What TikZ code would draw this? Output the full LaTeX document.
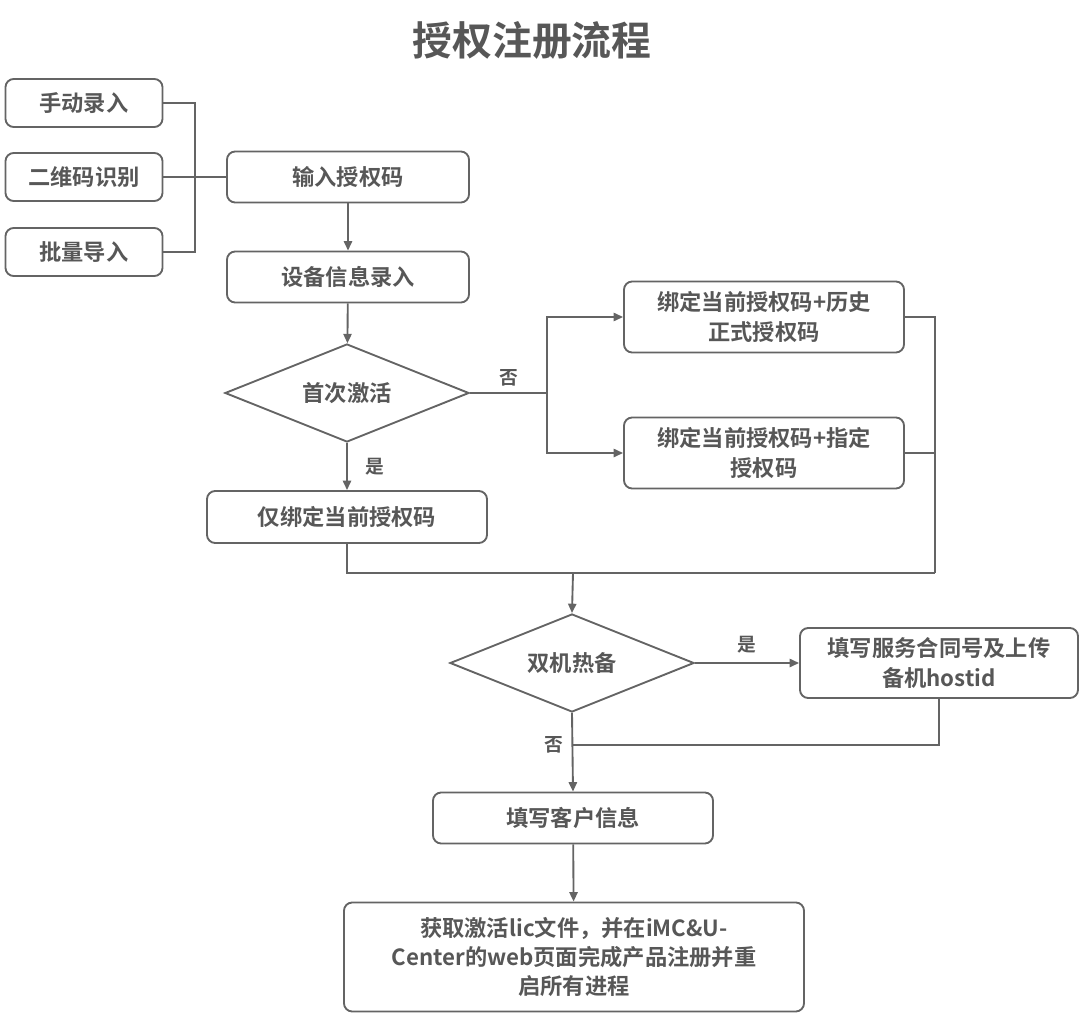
\documentclass[tikz,border=0pt]{standalone}
\usepackage{fontspec}
\setmainfont{Noto Sans CJK SC Bold}
\usepackage{xcolor}
\usepackage{tikz}
\usetikzlibrary{positioning,arrows.meta,shapes.geometric}
\definecolor{lineGray}{HTML}{646464}
\definecolor{textGray}{HTML}{575757}

\begin{document}
\begin{tikzpicture}[
    x=0.03cm, y=-0.03cm,
    line width=1.6pt, draw=lineGray, text=textGray,
    box/.style={draw=lineGray, rounded corners=7pt, align=center, inner sep=0pt, font=\fontsize{19}{25}\selectfont},
    decision/.style={draw=lineGray, diamond, aspect=2.5, inner sep=0pt, font=\fontsize{19}{25}\selectfont},
    arr/.style={draw=lineGray, -{Triangle[length=8pt,width=7pt]}},
    lnk/.style={draw=lineGray},
    lbl/.style={font=\fontsize{16}{20}\selectfont}
  ]
  \useasboundingbox (0,0) rectangle (1080,1014);

  \node[font=\fontsize{34}{40}\selectfont] (title) at (532,40) {授权注册流程};

  % input methods
  \node[box, minimum width=4.71cm, minimum height=1.44cm] (manual) at (84,103) {手动录入};
  \node[box, minimum width=4.71cm, minimum height=1.44cm] (qrcode) at (84,177) {二维码识别};
  \node[box, minimum width=4.71cm, minimum height=1.44cm] (batch) at (84,252) {批量导入};
  \coordinate (injoin) at (195,177);

  \node[box, minimum width=7.26cm, minimum height=1.53cm] (inputcode) at (348,177) {输入授权码};
  \node[box, minimum width=7.26cm, minimum height=1.53cm] (devinfo) at (348,277) {设备信息录入};
  \node[decision, minimum width=7.32cm, minimum height=2.94cm] (firstact) at (347,393) {首次激活};

  \node[box, minimum width=8.4cm, minimum height=2.13cm] (bindhist) at (764,317) {绑定当前授权码+历史\\正式授权码};
  \node[box, minimum width=8.4cm, minimum height=2.13cm] (bindspec) at (764,453) {绑定当前授权码+指定\\授权码};
  \node[box, minimum width=8.4cm, minimum height=1.56cm] (bindonly) at (347,517) {仅绑定当前授权码};
  \coordinate (split) at (547,393);
  \coordinate (rjoin) at (935,573);
  \coordinate (merge) at (573,573);

  \node[decision, minimum width=7.32cm, minimum height=2.94cm] (hotstandby) at (572,663) {双机热备};
  \node[box, minimum width=8.34cm, minimum height=2.1cm] (contract) at (939,663) {填写服务合同号及上传\\备机hostid};
  \coordinate (merge2) at (573,745);

  \node[box, minimum width=8.4cm, minimum height=1.53cm] (custinfo) at (573,818) {填写客户信息};
  \node[box, minimum width=13.8cm, minimum height=3.27cm] (license) at (574,957) {获取激活lic文件，并在iMC\&U-\\Center的web页面完成产品注册并重\\启所有进程};

  % connectors
  \draw[lnk] (manual.east) -| (injoin);
  \draw[lnk] (batch.east) -| (injoin);
  \draw[lnk] (qrcode.east) -- (inputcode.west);
  \draw[arr] (inputcode) -- (devinfo);
  \draw[arr] (devinfo) -- (firstact);

  \draw[lnk] (firstact.east) -- (split) node[lbl, pos=0.5, above=2pt] {否};
  \draw[arr] (split) |- (bindhist.west);
  \draw[arr] (split) |- (bindspec.west);
  \draw[arr] (firstact.south) -- (bindonly.north) node[lbl, midway, right=12pt] {是};

  \draw[lnk] (bindhist.east) -| (rjoin);
  \draw[lnk] (bindspec.east) -| (rjoin);
  \draw[lnk] (bindonly.south) |- (rjoin);
  \draw[arr] (merge) -- (hotstandby.north);

  \draw[arr] (hotstandby.east) -- (contract.west) node[lbl, midway, above=4pt] {是};
  \draw[lnk] (contract.south) |- (merge2);
  \draw[arr] (hotstandby.south) -- (custinfo.north);
  \node[lbl, left=4pt] (nolbl) at (merge2) {否};
  \draw[arr] (custinfo) -- (license);
\end{tikzpicture}
\end{document}
